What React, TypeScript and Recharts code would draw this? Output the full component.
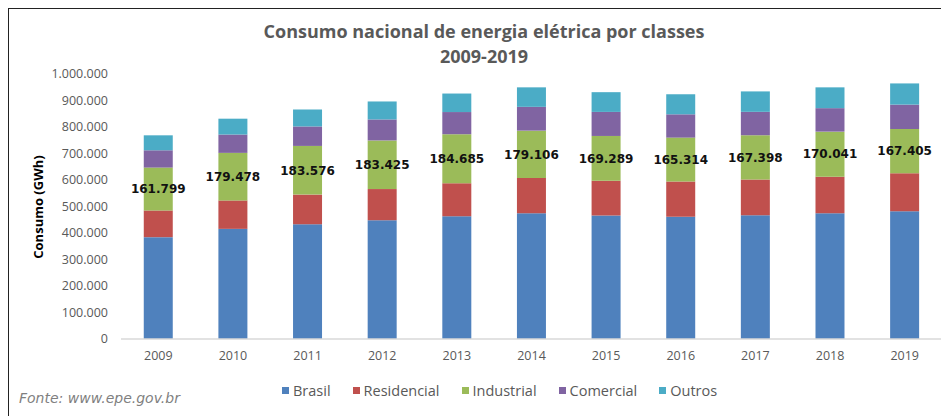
import React from 'react';
import { BarChart, Bar, XAxis, YAxis, LabelList } from 'recharts';

const years = ['2009', '2010', '2011', '2012', '2013', '2014', '2015', '2016', '2017', '2018', '2019'];
const brasil = [384306, 415683, 433034, 448177, 463142, 474823, 465708, 461780, 467161, 474820, 482226];
const residencial = [100776, 107215, 111971, 117646, 124908, 132302, 131190, 132872, 134369, 137615, 142781];
const industrial = [161799, 179478, 183576, 183425, 184685, 179106, 169289, 165314, 167398, 170041, 167405];
const comercial = [65255, 69170, 73482, 79226, 83704, 89840, 90768, 87873, 88292, 88631, 92075];
const outros = [56476, 59820, 64005, 67880, 69845, 73575, 74461, 75721, 77102, 78533, 79965];
const yTicks = [0, 100000, 200000, 300000, 400000, 500000, 600000, 700000, 800000, 900000, 1000000];

const series = [
  { key: 'brasil', name: 'Brasil', color: '#4f81bd' },
  { key: 'residencial', name: 'Residencial', color: '#c0504d' },
  { key: 'industrial', name: 'Industrial', color: '#9bbb59' },
  { key: 'comercial', name: 'Comercial', color: '#8064a2' },
  { key: 'outros', name: 'Outros', color: '#4bacc6' },
];

const data = years.map((year, i) => ({
  year,
  brasil: brasil[i],
  residencial: residencial[i],
  industrial: industrial[i],
  comercial: comercial[i],
  outros: outros[i],
}));

// 1000000 -> "1.000.000"
const fmt = (v: number) => String(Math.round(v)).replace(/\B(?=(\d{3})+(?!\d))/g, '.');

const GREY = '#595959';
const SANS = '"Open Sans", sans-serif';

export default function App() {
  return (
    <div style={{ position: 'relative', width: 949, height: 417, margin: '-8px 0 0 -8px', background: '#fff', fontFamily: SANS }}>
      <div
        style={{
          position: 'absolute',
          left: 7,
          top: 7,
          width: 942,
          height: 407,
          borderLeft: '2px solid #222',
          borderTop: '2px solid #222',
        }}
      />
      <div
        style={{
          position: 'absolute',
          left: 0,
          width: 968,
          top: 19,
          textAlign: 'center',
          color: GREY,
          fontWeight: 700,
          fontSize: 18,
          lineHeight: '25px',
        }}
      >
        <div>Consumo nacional de energia elétrica por classes</div>
        <div>2009-2019</div>
      </div>
      <div
        style={{
          position: 'absolute',
          left: 38,
          top: 207,
          transform: 'translate(-50%, -50%) rotate(-90deg)',
          whiteSpace: 'nowrap',
          fontWeight: 700,
          fontSize: 13,
          color: '#000',
        }}
      >
        Consumo (GWh)
      </div>
      <BarChart
        width={949}
        height={417}
        data={data}
        margin={{ top: 74, right: 7, left: 0, bottom: 0 }}
        barCategoryGap="30.5%"
        style={{ position: 'absolute', left: 0, top: 0 }}
      >
        <XAxis
          dataKey="year"
          height={78}
          axisLine={{ stroke: '#d9d9d9', strokeWidth: 1.5 }}
          tickLine={false}
          tickSize={0}
          tickMargin={12}
          tick={{ fill: GREY, fontSize: 12.5, fontFamily: SANS }}
        />
        <YAxis
          width={121}
          domain={[0, 1000000]}
          ticks={yTicks}
          interval={0}
          axisLine={false}
          tickLine={false}
          tickSize={0}
          tickMargin={13}
          tickFormatter={fmt}
          tick={{ fill: GREY, fontSize: 12.5, fontFamily: SANS }}
        />
        {series.map((s) => (
          <Bar key={s.key} dataKey={s.key} name={s.name} stackId="a" fill={s.color} isAnimationActive={false}>
            {s.key === 'industrial' && (
              <LabelList
                dataKey="industrial"
                position="center"
                formatter={(v: any) => fmt(Number(v))}
                style={{ fill: '#111', fontSize: 12, fontWeight: 700, fontFamily: '"DejaVu Sans", sans-serif' }}
              />
            )}
          </Bar>
        ))}
      </BarChart>
      <div
        style={{
          position: 'absolute',
          left: 282,
          top: 381,
          display: 'flex',
          alignItems: 'center',
          gap: 22,
          fontSize: 14.5,
          color: GREY,
          whiteSpace: 'nowrap',
        }}
      >
        {series.map((s) => (
          <div key={s.key} style={{ display: 'flex', alignItems: 'center' }}>
            <span style={{ display: 'inline-block', width: 7, height: 7, background: s.color, marginRight: 4 }} />
            {s.name}
          </div>
        ))}
      </div>
      <div
        style={{
          position: 'absolute',
          left: 19,
          top: 390,
          fontFamily: '"DejaVu Sans", sans-serif',
          fontStyle: 'italic',
          fontSize: 14,
          color: '#7f7f7f',
          whiteSpace: 'nowrap',
        }}
      >
        Fonte: www.epe.gov.br
      </div>
    </div>
  );
}
